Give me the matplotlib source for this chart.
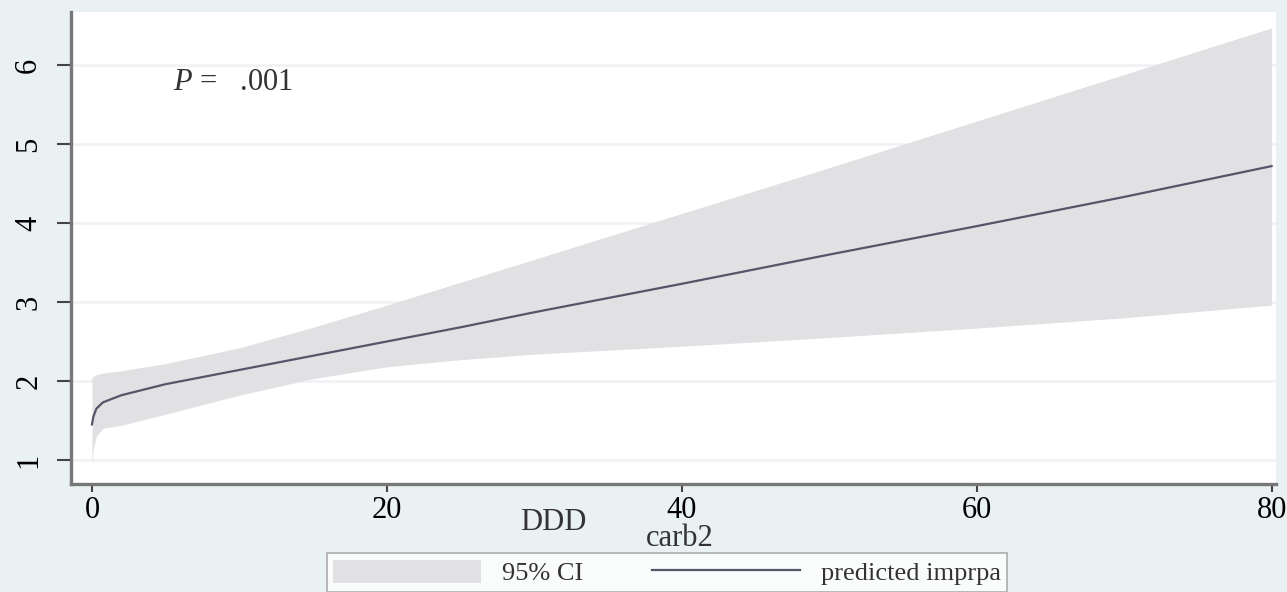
import numpy as np
import matplotlib
matplotlib.use("Agg")
import matplotlib.pyplot as plt
from matplotlib.patches import Patch
from matplotlib.lines import Line2D

plt.rcParams['font.family'] = ['Liberation Serif', 'DejaVu Serif']
plt.rcParams['mathtext.fontset'] = 'custom'
plt.rcParams['mathtext.it'] = 'Liberation Serif:italic'
plt.rcParams['mathtext.rm'] = 'Liberation Serif'

# values
carb2 = [0, 0.1, 0.3, 0.75, 2, 5, 10, 15, 20, 25, 30, 40, 50, 60, 70, 80]
pred = [1.45, 1.55, 1.65, 1.73, 1.82, 1.96, 2.14, 2.32, 2.50, 2.68, 2.87, 3.23, 3.60, 3.96, 4.33, 4.72]
ci_hi = [2.05, 2.06, 2.08, 2.10, 2.13, 2.22, 2.42, 2.68, 2.96, 3.25, 3.54, 4.12, 4.70, 5.29, 5.88, 6.47]
ci_lo = [0.92, 1.15, 1.30, 1.40, 1.44, 1.58, 1.82, 2.03, 2.18, 2.27, 2.34, 2.44, 2.55, 2.67, 2.80, 2.96]
yticks = [1, 2, 3, 4, 5, 6]
xticks = [0, 20, 40, 60, 80]

bg = '#eaf1f3'
fs = 22
fig = plt.figure(figsize=(12.87, 5.92), dpi=100)
fig.patch.set_facecolor(bg)
ax = fig.add_axes([71 / 1287, 1 - 484 / 592, 1205 / 1287, 472 / 592])
ax.set_facecolor('white')

ax.fill_between(carb2, ci_lo, ci_hi, color='#e1e1e4', lw=0, zorder=2)
ax.plot(carb2, pred, color='#55556a', lw=1.6, zorder=3)

ax.set_xlim(-1.42, 80.3)
ax.set_ylim(0.696, 6.671)
ax.set_xticks(xticks)
ax.set_yticks(yticks)
ax.grid(axis='y', color='#eef2f5', lw=1.8, zorder=1)
ax.grid(axis='x', visible=False)

for s in ['top', 'right']:
    ax.spines[s].set_visible(False)
for s in ['left', 'bottom']:
    ax.spines[s].set_color('#777777')
    ax.spines[s].set_linewidth(2.4)

ax.tick_params(axis='x', length=6, width=1.5, color='#444444', labelsize=fs, pad=3)
ax.tick_params(axis='y', length=10, width=1.5, color='#444444', labelsize=fs, pad=10)
for lab in ax.get_yticklabels():
    lab.set_rotation(90)
    lab.set_va('center')

ax.text(0.085, 0.85, r'$P$ =   .001', transform=ax.transAxes, fontsize=fs,
        color='#333333', va='center', ha='left')

fig.text(553 / 1287, 1 - 522 / 592, 'DDD', fontsize=fs, ha='center', va='center', color='#333333')
fig.text(680 / 1287, 1 - 538 / 592, 'carb2', fontsize=fs, ha='center', va='center', color='#333333')

handles = [Patch(facecolor='#e1e1e4', edgecolor='none'),
           Line2D([], [], color='#55556a', lw=1.6)]
leg = fig.legend(handles, ['95% CI', 'predicted imprpa'], loc='upper center',
                 bbox_to_anchor=(667 / 1287, 1 - 553 / 592), ncol=2, fontsize=19,
                 frameon=True, fancybox=False, handlelength=5.6, handleheight=1.0,
                 columnspacing=2.6, borderpad=0.25, borderaxespad=0)
leg.get_frame().set_edgecolor('#999999')
leg.get_frame().set_facecolor('white')
leg.get_frame().set_linewidth(1.2)
for t in leg.get_texts():
    t.set_color('#333333')

fig.savefig('out.png', dpi=100, facecolor=bg)
